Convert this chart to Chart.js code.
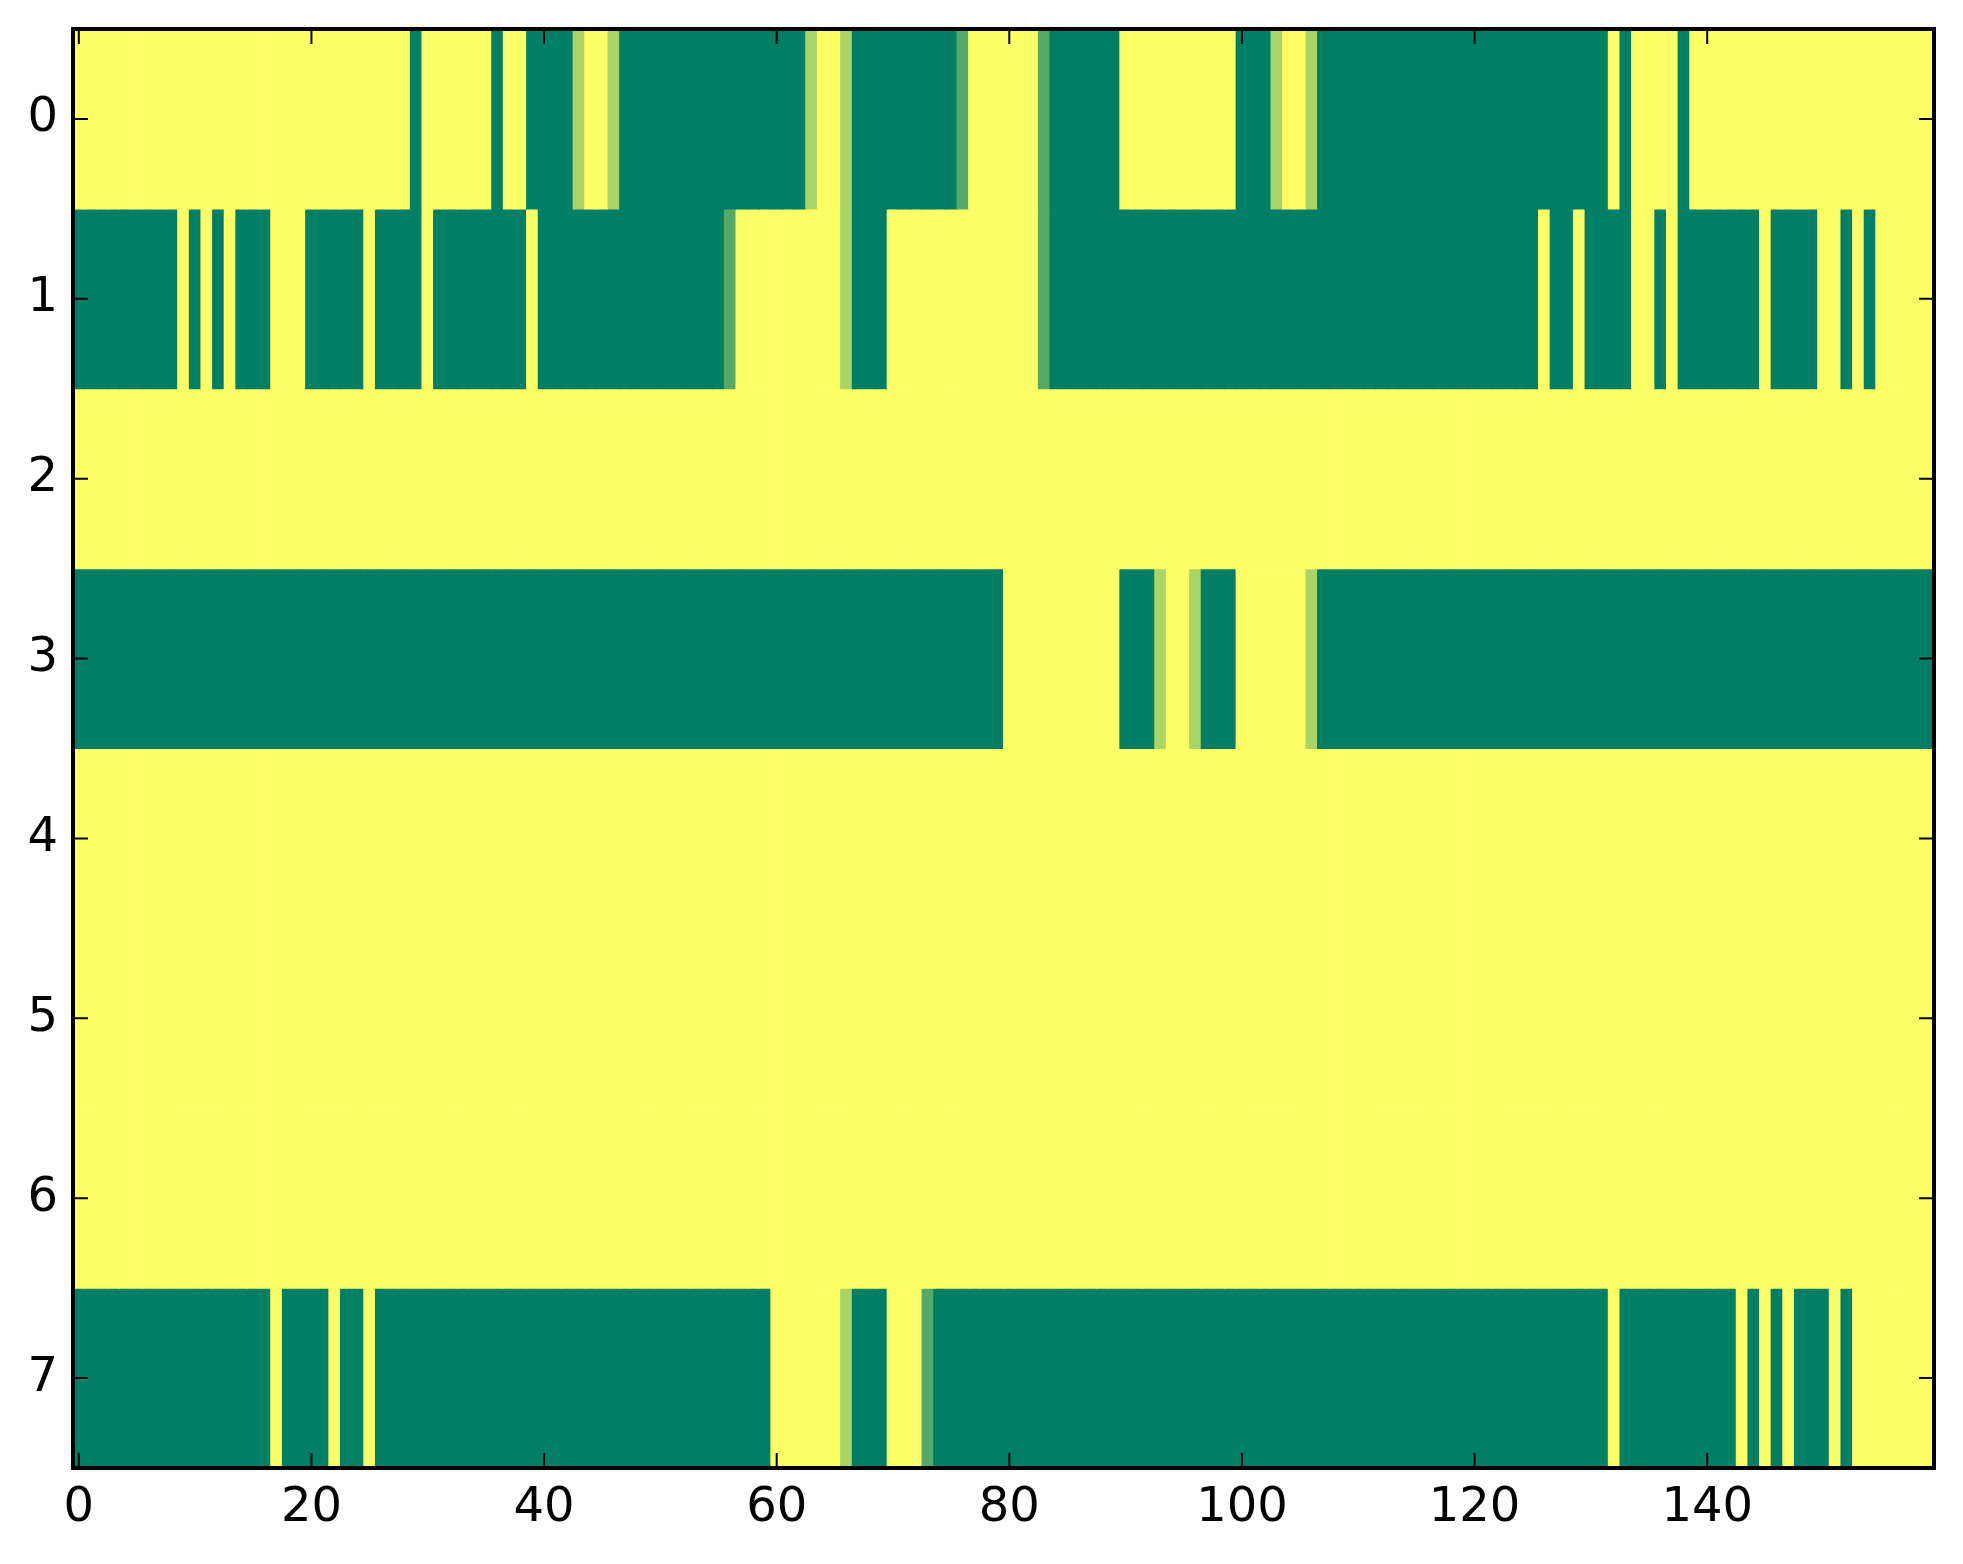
<!DOCTYPE html>
<html>
<head>
<meta charset="utf-8">
<script src="https://cdn.jsdelivr.net/npm/chart.js@4/dist/chart.umd.min.js"></script>
<style>
  html, body { margin: 0; padding: 0; background: #fff; }
  #wrap { width: 1963px; height: 1564px; }
</style>
</head>
<body>
<div id="wrap"><canvas id="heat"></canvas></div>
<script>

// column ids 0..159 and row ids 0..7
const columns = [
    0,1,2,3,4,5,6,7,8,9,10,11,12,13,14,15,16,17,18,19,
    20,21,22,23,24,25,26,27,28,29,30,31,32,33,34,35,36,37,38,39,
    40,41,42,43,44,45,46,47,48,49,50,51,52,53,54,55,56,57,58,59,
    60,61,62,63,64,65,66,67,68,69,70,71,72,73,74,75,76,77,78,79,
    80,81,82,83,84,85,86,87,88,89,90,91,92,93,94,95,96,97,98,99,
    100,101,102,103,104,105,106,107,108,109,110,111,112,113,114,115,116,117,118,119,
    120,121,122,123,124,125,126,127,128,129,130,131,132,133,134,135,136,137,138,139,
    140,141,142,143,144,145,146,147,148,149,150,151,152,153,154,155,156,157,158,159
];

const xTicks = [0, 20, 40, 60, 80, 100, 120, 140];
const yTicks = [0, 1, 2, 3, 4, 5, 6, 7];

const row0 = [
    1,1,1,1,1,1,1,1,1,1, 1,1,1,1,1,1,1,1,1,1,
    1,1,1,1,1,1,1,1,1,0, 1,1,1,1,1,1,0,1,1,0,
    0,0,0,0.67,1,1,0.67,0,0,0, 0,0,0,0,0,0,0,0,0,0,
    0,0,0,0.67,1,1,0.67,0,0,0, 0,0,0,0,0,0,0.33,1,1,1,
    1,1,1,0.33,0,0,0,0,0,0, 1,1,1,1,1,1,1,1,1,1,
    0,0,0,0.67,1,1,0.67,0,0,0, 0,0,0,0,0,0,0,0,0,0,
    0,0,0,0,0,0,0,0,0,0, 0,0,1,0,1,1,1,1,0,1,
    1,1,1,1,1,1,1,1,1,1, 1,1,1,1,1,1,1,1,1,1
];

const row1 = [
    0,0,0,0,0,0,0,0,0,1, 0,1,0,1,0,0,0,1,1,1,
    0,0,0,0,0,1,0,0,0,0, 1,0,0,0,0,0,0,0,0,1,
    0,0,0,0,0,0,0,0,0,0, 0,0,0,0,0,0,0.33,1,1,1,
    1,1,1,1,1,1,0.67,0,0,0, 1,1,1,1,1,1,1,1,1,1,
    1,1,1,0.33,0,0,0,0,0,0, 0,0,0,0,0,0,0,0,0,0,
    0,0,0,0,0,0,0,0,0,0, 0,0,0,0,0,0,0,0,0,0,
    0,0,0,0,0,0,1,0,0,1, 0,0,0,0,1,1,0,1,0,0,
    0,0,0,0,0,1,0,0,0,0, 1,1,0,1,0,1,1,1,1,1
];

const row2 = [
    1,1,1,1,1,1,1,1,1,1, 1,1,1,1,1,1,1,1,1,1,
    1,1,1,1,1,1,1,1,1,1, 1,1,1,1,1,1,1,1,1,1,
    1,1,1,1,1,1,1,1,1,1, 1,1,1,1,1,1,1,1,1,1,
    1,1,1,1,1,1,1,1,1,1, 1,1,1,1,1,1,1,1,1,1,
    1,1,1,1,1,1,1,1,1,1, 1,1,1,1,1,1,1,1,1,1,
    1,1,1,1,1,1,1,1,1,1, 1,1,1,1,1,1,1,1,1,1,
    1,1,1,1,1,1,1,1,1,1, 1,1,1,1,1,1,1,1,1,1,
    1,1,1,1,1,1,1,1,1,1, 1,1,1,1,1,1,1,1,1,1
];

const row3 = [
    0,0,0,0,0,0,0,0,0,0, 0,0,0,0,0,0,0,0,0,0,
    0,0,0,0,0,0,0,0,0,0, 0,0,0,0,0,0,0,0,0,0,
    0,0,0,0,0,0,0,0,0,0, 0,0,0,0,0,0,0,0,0,0,
    0,0,0,0,0,0,0,0,0,0, 0,0,0,0,0,0,0,0,0,0,
    1,1,1,1,1,1,1,1,1,1, 0,0,0,0.67,1,1,0.67,0,0,0,
    1,1,1,1,1,1,0.67,0,0,0, 0,0,0,0,0,0,0,0,0,0,
    0,0,0,0,0,0,0,0,0,0, 0,0,0,0,0,0,0,0,0,0,
    0,0,0,0,0,0,0,0,0,0, 0,0,0,0,0,0,0,0,0,0
];

const row4 = [
    1,1,1,1,1,1,1,1,1,1, 1,1,1,1,1,1,1,1,1,1,
    1,1,1,1,1,1,1,1,1,1, 1,1,1,1,1,1,1,1,1,1,
    1,1,1,1,1,1,1,1,1,1, 1,1,1,1,1,1,1,1,1,1,
    1,1,1,1,1,1,1,1,1,1, 1,1,1,1,1,1,1,1,1,1,
    1,1,1,1,1,1,1,1,1,1, 1,1,1,1,1,1,1,1,1,1,
    1,1,1,1,1,1,1,1,1,1, 1,1,1,1,1,1,1,1,1,1,
    1,1,1,1,1,1,1,1,1,1, 1,1,1,1,1,1,1,1,1,1,
    1,1,1,1,1,1,1,1,1,1, 1,1,1,1,1,1,1,1,1,1
];

const row5 = [
    1,1,1,1,1,1,1,1,1,1, 1,1,1,1,1,1,1,1,1,1,
    1,1,1,1,1,1,1,1,1,1, 1,1,1,1,1,1,1,1,1,1,
    1,1,1,1,1,1,1,1,1,1, 1,1,1,1,1,1,1,1,1,1,
    1,1,1,1,1,1,1,1,1,1, 1,1,1,1,1,1,1,1,1,1,
    1,1,1,1,1,1,1,1,1,1, 1,1,1,1,1,1,1,1,1,1,
    1,1,1,1,1,1,1,1,1,1, 1,1,1,1,1,1,1,1,1,1,
    1,1,1,1,1,1,1,1,1,1, 1,1,1,1,1,1,1,1,1,1,
    1,1,1,1,1,1,1,1,1,1, 1,1,1,1,1,1,1,1,1,1
];

const row6 = [
    1,1,1,1,1,1,1,1,1,1, 1,1,1,1,1,1,1,1,1,1,
    1,1,1,1,1,1,1,1,1,1, 1,1,1,1,1,1,1,1,1,1,
    1,1,1,1,1,1,1,1,1,1, 1,1,1,1,1,1,1,1,1,1,
    1,1,1,1,1,1,1,1,1,1, 1,1,1,1,1,1,1,1,1,1,
    1,1,1,1,1,1,1,1,1,1, 1,1,1,1,1,1,1,1,1,1,
    1,1,1,1,1,1,1,1,1,1, 1,1,1,1,1,1,1,1,1,1,
    1,1,1,1,1,1,1,1,1,1, 1,1,1,1,1,1,1,1,1,1,
    1,1,1,1,1,1,1,1,1,1, 1,1,1,1,1,1,1,1,1,1
];

const row7 = [
    0,0,0,0,0,0,0,0,0,0, 0,0,0,0,0,0,0,1,0,0,
    0,0,1,0,0,1,0,0,0,0, 0,0,0,0,0,0,0,0,0,0,
    0,0,0,0,0,0,0,0,0,0, 0,0,0,0,0,0,0,0,0,0,
    1,1,1,1,1,1,0.67,0,0,0, 1,1,1,0.33,0,0,0,0,0,0,
    0,0,0,0,0,0,0,0,0,0, 0,0,0,0,0,0,0,0,0,0,
    0,0,0,0,0,0,0,0,0,0, 0,0,0,0,0,0,0,0,0,0,
    0,0,0,0,0,0,0,0,0,0, 0,0,1,0,0,0,0,0,0,0,
    0,0,0,1,0,1,0,1,0,0, 0,1,0,1,1,1,1,1,1,1
];

const rows = [row0, row1, row2, row3, row4, row5, row6, row7];

// matplotlib "summer" colormap
function summer(v){
    const r = Math.round(255 * v);
    const g = Math.floor(255 * (0.5 + 0.5 * v));
    return `rgb(${r},${g},102)`;
}

const datasets = rows.map((vals, r) => ({
    data: columns.map(c => ({ x: c, y: [r - 0.5, r + 0.5] })),
    backgroundColor: vals.map(summer),
    borderWidth: 0,
    grouped: false,
    barPercentage: 1,
    categoryPercentage: 1,
    inflateAmount: 0.5
}));

// inside ticks on all four sides + the frame
const framePlugin = {
    id: "frame",
    afterDatasetsDraw(chart){
        const { ctx, chartArea: a, scales } = chart;
        const tl = 15;
        ctx.save();
        ctx.strokeStyle = "#000";
        ctx.lineWidth = 2;
        ctx.beginPath();
        xTicks.forEach(v => {
            const px = scales.x.getPixelForValue(v);
            ctx.moveTo(px, a.bottom); ctx.lineTo(px, a.bottom - tl);
            ctx.moveTo(px, a.top); ctx.lineTo(px, a.top + tl);
        });
        yTicks.forEach(v => {
            const py = scales.y.getPixelForValue(v);
            ctx.moveTo(a.left, py); ctx.lineTo(a.left + tl, py);
            ctx.moveTo(a.right, py); ctx.lineTo(a.right - tl, py);
        });
        ctx.stroke();
        ctx.lineWidth = 4;
        ctx.strokeRect(a.left, a.top, a.right - a.left, a.bottom - a.top);
        ctx.restore();
    }
};

const tickFont = { family: "'DejaVu Sans', sans-serif", size: 48 };

new Chart(document.getElementById("heat"), {
    type: "bar",
    data: { datasets },
    plugins: [framePlugin],
    options: {
        responsive: true,
        maintainAspectRatio: false,
        animation: false,
        devicePixelRatio: 1,
        layout: { padding: { top: 29, right: 29, left: 0, bottom: 0 } },
        plugins: { legend: { display: false }, tooltip: { enabled: false } },
        scales: {
            x: {
                type: "linear",
                min: -0.5,
                max: 159.5,
                offset: false,
                grid: { display: false, drawTicks: false, offset: false },
                border: { display: false },
                afterBuildTicks: axis => { axis.ticks = xTicks.map(v => ({ value: v })); },
                afterFit: axis => { axis.height = 96; axis.paddingRight = 0; },
                ticks: { color: "#000", font: tickFont, padding: 12, maxRotation: 0, autoSkip: false }
            },
            y: {
                type: "linear",
                reverse: true,
                min: -0.5,
                max: 7.5,
                grid: { display: false, drawTicks: false },
                border: { display: false },
                afterBuildTicks: axis => { axis.ticks = yTicks.map(v => ({ value: v })); },
                afterFit: axis => { axis.width = 73; axis.paddingTop = 0; axis.paddingBottom = 0; },
                ticks: { color: "#000", font: tickFont, padding: 15, autoSkip: false }
            }
        }
    }
});
</script>
</body>
</html>
